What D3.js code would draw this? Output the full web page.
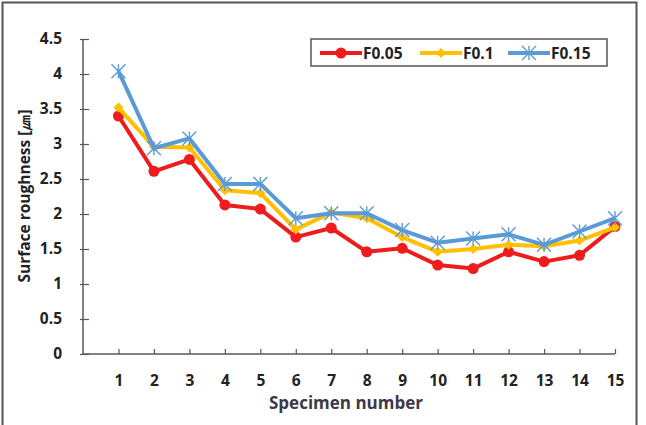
<!DOCTYPE html>
<html><head><meta charset="utf-8">
<script src="https://cdn.jsdelivr.net/npm/d3@7"></script>
<style>body{margin:0;background:#fff}svg{display:block}text{font-family:"Open Sans",sans-serif;font-weight:bold}</style>
</head><body>
<script>
const specimens = [1,2,3,4,5,6,7,8,9,10,11,12,13,14,15];
const f005 = [3.40,2.61,2.78,2.13,2.07,1.67,1.80,1.46,1.51,1.27,1.22,1.46,1.32,1.41,1.82];
const f01  = [3.52,2.96,2.95,2.34,2.30,1.78,2.02,1.94,1.67,1.46,1.50,1.56,1.54,1.62,1.81];
const f015 = [4.04,2.94,3.08,2.43,2.43,1.94,2.01,2.01,1.77,1.59,1.65,1.71,1.56,1.75,1.94];
const yTicks = [0,0.5,1,1.5,2,2.5,3,3.5,4,4.5];
const seriesNames = ["F0.05","F0.1","F0.15"];
const seriesColors = ["#ee1c1c","#ffc000","#5b9bd5"];
const seriesMarkers = ["circle","diamond","asterisk"];

const W=646,H=425;
const FONT="'Open Sans', sans-serif";
const svg=d3.select("body").append("svg").attr("width",W).attr("height",H);
svg.append("rect").attr("x",2.5).attr("y",2.5).attr("width",634).attr("height",428).attr("fill","none").attr("stroke","#555").attr("stroke-width",2);

const x=d3.scaleLinear().domain([0,15]).range([83,615]);
const y=d3.scaleLinear().domain([0,4.5]).range([354,39]);

const yAxis=svg.append("g").attr("transform","translate(83,0)")
  .call(d3.axisLeft(y).tickValues(yTicks).tickFormat(d=>d).tickSize(3).tickPadding(18));
const xAxis=svg.append("g").attr("transform","translate(0,354)")
  .call(d3.axisBottom(x).tickValues(specimens).tickSize(-5).tickPadding(21));
[yAxis,xAxis].forEach(g=>{
  g.selectAll("path").attr("stroke","#595959").attr("stroke-width",1.5);
  g.selectAll("line").attr("stroke","#595959").attr("stroke-width",1.2);
  g.selectAll("text").attr("fill","#222").style("font-size","15.5px").style("font-family",FONT).style("font-weight","bold");
});
yAxis.selectAll(".tick line").attr("x1",-3).attr("x2",6);
xAxis.select(".domain").attr("d","M83,0H615");
yAxis.select(".domain").attr("d","M0,354V39");

svg.append("text").attr("transform","translate(26,196) rotate(-90)").attr("text-anchor","middle")
  .attr("dominant-baseline","middle").style("font-size","15.5px").attr("fill","#222").text("Surface roughness [㎛]");
svg.append("text").attr("x",346).attr("y",409).attr("text-anchor","middle")
  .style("font-size","17px").attr("fill","#3a3a48").text("Specimen number");

function marker(g,type,cx,cy,color){
  if(type==="circle") g.append("circle").attr("cx",cx).attr("cy",cy).attr("r",5.5).attr("fill",color);
  else if(type==="diamond") g.append("path").attr("d",`M${cx},${cy-5}L${cx+5},${cy}L${cx},${cy+5}L${cx-5},${cy}Z`).attr("fill",color);
  else { const s=7; g.append("path").attr("d",`M${cx-s},${cy-s}L${cx+s},${cy+s}M${cx-s},${cy+s}L${cx+s},${cy-s}M${cx},${cy-s}V${cy+s}`).attr("stroke",color).attr("stroke-width",1.4).attr("fill","none"); }
}
const data=[f005,f01,f015];
const line=d3.line().x((d,i)=>x(specimens[i])).y(d=>y(d));
data.forEach((vals,k)=>{
  const g=svg.append("g");
  g.append("path").datum(vals).attr("d",line).attr("fill","none").attr("stroke",seriesColors[k]).attr("stroke-width",4).attr("stroke-linejoin","round");
  vals.forEach((v,i)=>marker(g,seriesMarkers[k],x(specimens[i]),y(v),seriesColors[k]));
});

// legend
const lg=svg.append("g");
lg.append("rect").attr("x",311).attr("y",39).attr("width",296).attr("height",27).attr("fill","#fff").attr("stroke","#555").attr("stroke-width",1.5);
const lx=[320,420,508];
seriesNames.forEach((n,k)=>{
  lg.append("line").attr("x1",lx[k]).attr("x2",lx[k]+42).attr("y1",53).attr("y2",53).attr("stroke",seriesColors[k]).attr("stroke-width",4);
  marker(lg,seriesMarkers[k],lx[k]+21,53,seriesColors[k]);
  lg.append("text").attr("x",lx[k]+43).attr("y",58.5).style("font-size","15.5px").attr("fill","#222").text(n);
});
</script>
</body></html>
